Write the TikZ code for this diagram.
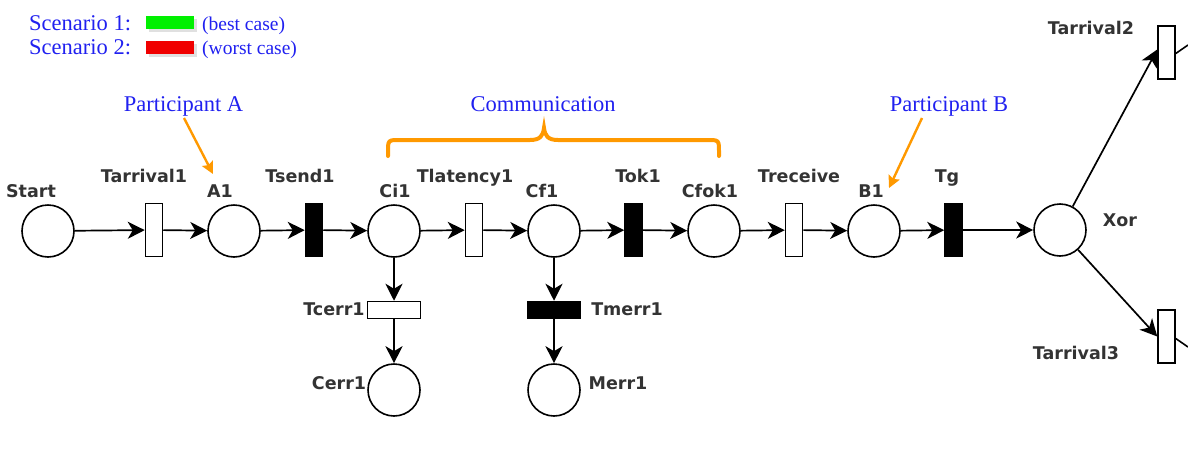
\documentclass[tikz,border=0pt]{standalone}
\usepackage{fontspec}
\setmainfont{Liberation Serif}
\newfontfamily\lblfont{DejaVu Sans}
\usetikzlibrary{arrows.meta}
\definecolor{txtblue}{RGB}{32,32,240}
\definecolor{brorange}{RGB}{255,153,0}
\definecolor{lblgray}{RGB}{51,51,51}
\definecolor{legreen}{RGB}{0,240,0}
\definecolor{lered}{RGB}{240,0,0}
\tikzset{
  place/.style={circle,draw,line width=1.6pt,minimum size=52pt,inner sep=0pt},
  vtrans/.style={rectangle,draw,line width=1.5pt,minimum width=17pt,minimum height=53pt,inner sep=0pt},
  htrans/.style={rectangle,draw,line width=1.5pt,minimum width=53pt,minimum height=17pt,inner sep=0pt},
  filledtr/.style={fill=black},
  lbl/.style={font=\lblfont\bfseries\fontsize{17.5}{20}\selectfont,text=lblgray,anchor=base,inner sep=0pt},
  bluetxt/.style={font=\fontsize{22.5}{26}\selectfont,text=txtblue,inner sep=0pt},
  smallblue/.style={font=\fontsize{19.5}{23}\selectfont,text=txtblue,inner sep=0pt,anchor=base west},
  arc/.style={line width=1.7pt,-{Stealth[length=17pt,width=17pt,inset=5pt]}},
  plainarc/.style={line width=1.6pt},
  pointer/.style={draw=brorange,line width=2.4pt,-{Stealth[length=12pt,width=12pt,inset=2pt]},brorange}
}
\begin{document}
\begin{tikzpicture}[x=1pt,y=-1pt]
\useasboundingbox (0,0) rectangle (1188,453);
% legend
\node[bluetxt,anchor=base west] (sc1) at (29,30) {Scenario 1:};
\node[bluetxt,anchor=base west] (sc2) at (29,54) {Scenario 2:};
\fill[black!12] (149,19) rectangle (197,32);
\fill[legreen] (146,16) rectangle (194,29);
\fill[black!12] (149,44) rectangle (197,57);
\fill[lered] (146,41) rectangle (194,54);
\node[smallblue] (bc) at (202,30) {(best case)};
\node[smallblue] (wc) at (202,54) {(worst case)};
% annotations
\node[bluetxt,anchor=base] (pa) at (183.5,111) {Participant A};
\node[bluetxt,anchor=base] (pb) at (949,111) {Participant B};
\node[bluetxt,anchor=base] (comm) at (543,111) {Communication};
\coordinate (paS) at (184,118);
\coordinate (paE) at (213,174);
\coordinate (pbS) at (922,118);
\coordinate (pbE) at (889,188);
\draw[pointer] (paS) -- (paE);
\draw[pointer] (pbS) -- (pbE);
\draw[brorange,line width=4pt,line cap=round]
  (388,156) -- (388,152) .. controls (388,140) .. (400,140) -- (530,140)
  .. controls (540,140) and (543,136) .. (544,128)
  .. controls (545,136) and (548,140) .. (558,140) -- (707,140)
  .. controls (719,140) .. (719,152) -- (719,156);
% places and transitions
\node[place] (start) at (48,231) {};
\node[vtrans] (ta1) at (154,230) {};
\node[place] (a1) at (234,231) {};
\node[vtrans,filledtr] (ts1) at (314,230) {};
\node[place] (ci1) at (394,231) {};
\node[vtrans] (tl1) at (474,230) {};
\node[place] (cf1) at (554,231) {};
\node[vtrans,filledtr] (tok1) at (633.5,230) {};
\node[place] (cfok1) at (714,231) {};
\node[vtrans] (trec) at (794,230) {};
\node[place] (b1) at (874,231) {};
\node[vtrans,filledtr] (tg) at (953.5,230) {};
\node[place] (xor) at (1060,230) {};
\node[vtrans] (ta2) at (1166.5,52.5) {};
\node[vtrans] (ta3) at (1166.5,336.5) {};
\node[htrans] (tce) at (394,310) {};
\node[place] (cerr) at (394,390) {};
\node[htrans,filledtr] (tme) at (554,310) {};
\node[place] (merr) at (554,390) {};
% labels
\node[lbl] (lstart) at (31,197) {Start};
\node[lbl] (lta1) at (144,182) {Tarrival1};
\node[lbl] (la1) at (220,197) {A1};
\node[lbl] (lts1) at (300,182) {Tsend1};
\node[lbl] (lci1) at (395,197) {Ci1};
\node[lbl] (ltl1) at (465,182) {Tlatency1};
\node[lbl] (lcf1) at (542,197) {Cf1};
\node[lbl] (ltok1) at (638,182) {Tok1};
\node[lbl] (lcfok1) at (710,197) {Cfok1};
\node[lbl] (ltrec) at (799,182) {Treceive};
\node[lbl] (lb1) at (871,197) {B1};
\node[lbl] (ltg) at (947,182) {Tg};
\node[lbl] (lxor) at (1120,226) {Xor};
\node[lbl] (lta2) at (1091,34) {Tarrival2};
\node[lbl] (lta3) at (1076,359) {Tarrival3};
\node[lbl] (ltce) at (334,315) {Tcerr1};
\node[lbl] (lcerr) at (339,389) {Cerr1};
\node[lbl] (ltme) at (627,315) {Tmerr1};
\node[lbl] (lmerr) at (618,389) {Merr1};
% arcs
\draw[arc] (start) -- (ta1);
\draw[arc] (ta1) -- (a1);
\draw[arc] (a1) -- (ts1);
\draw[arc] (ts1) -- (ci1);
\draw[arc] (ci1) -- (tl1);
\draw[arc] (tl1) -- (cf1);
\draw[arc] (cf1) -- (tok1);
\draw[arc] (tok1) -- (cfok1);
\draw[arc] (cfok1) -- (trec);
\draw[arc] (trec) -- (b1);
\draw[arc] (b1) -- (tg);
\draw[arc] (tg) -- (xor);
\draw[arc] (ci1) -- (tce);
\draw[arc] (tce) -- (cerr);
\draw[arc] (cf1) -- (tme);
\draw[arc] (tme) -- (merr);
\draw[arc] (xor) -- ([yshift=3pt]ta2.west);
\draw[arc] (xor) -- (ta3.west);
\coordinate (out2) at (1188,45);
\coordinate (out3) at (1188,347);
\draw[plainarc] ([yshift=-1pt]ta2.east) -- (out2);
\draw[plainarc] ([yshift=-2pt]ta3.east) -- (out3);
\end{tikzpicture}
\end{document}
